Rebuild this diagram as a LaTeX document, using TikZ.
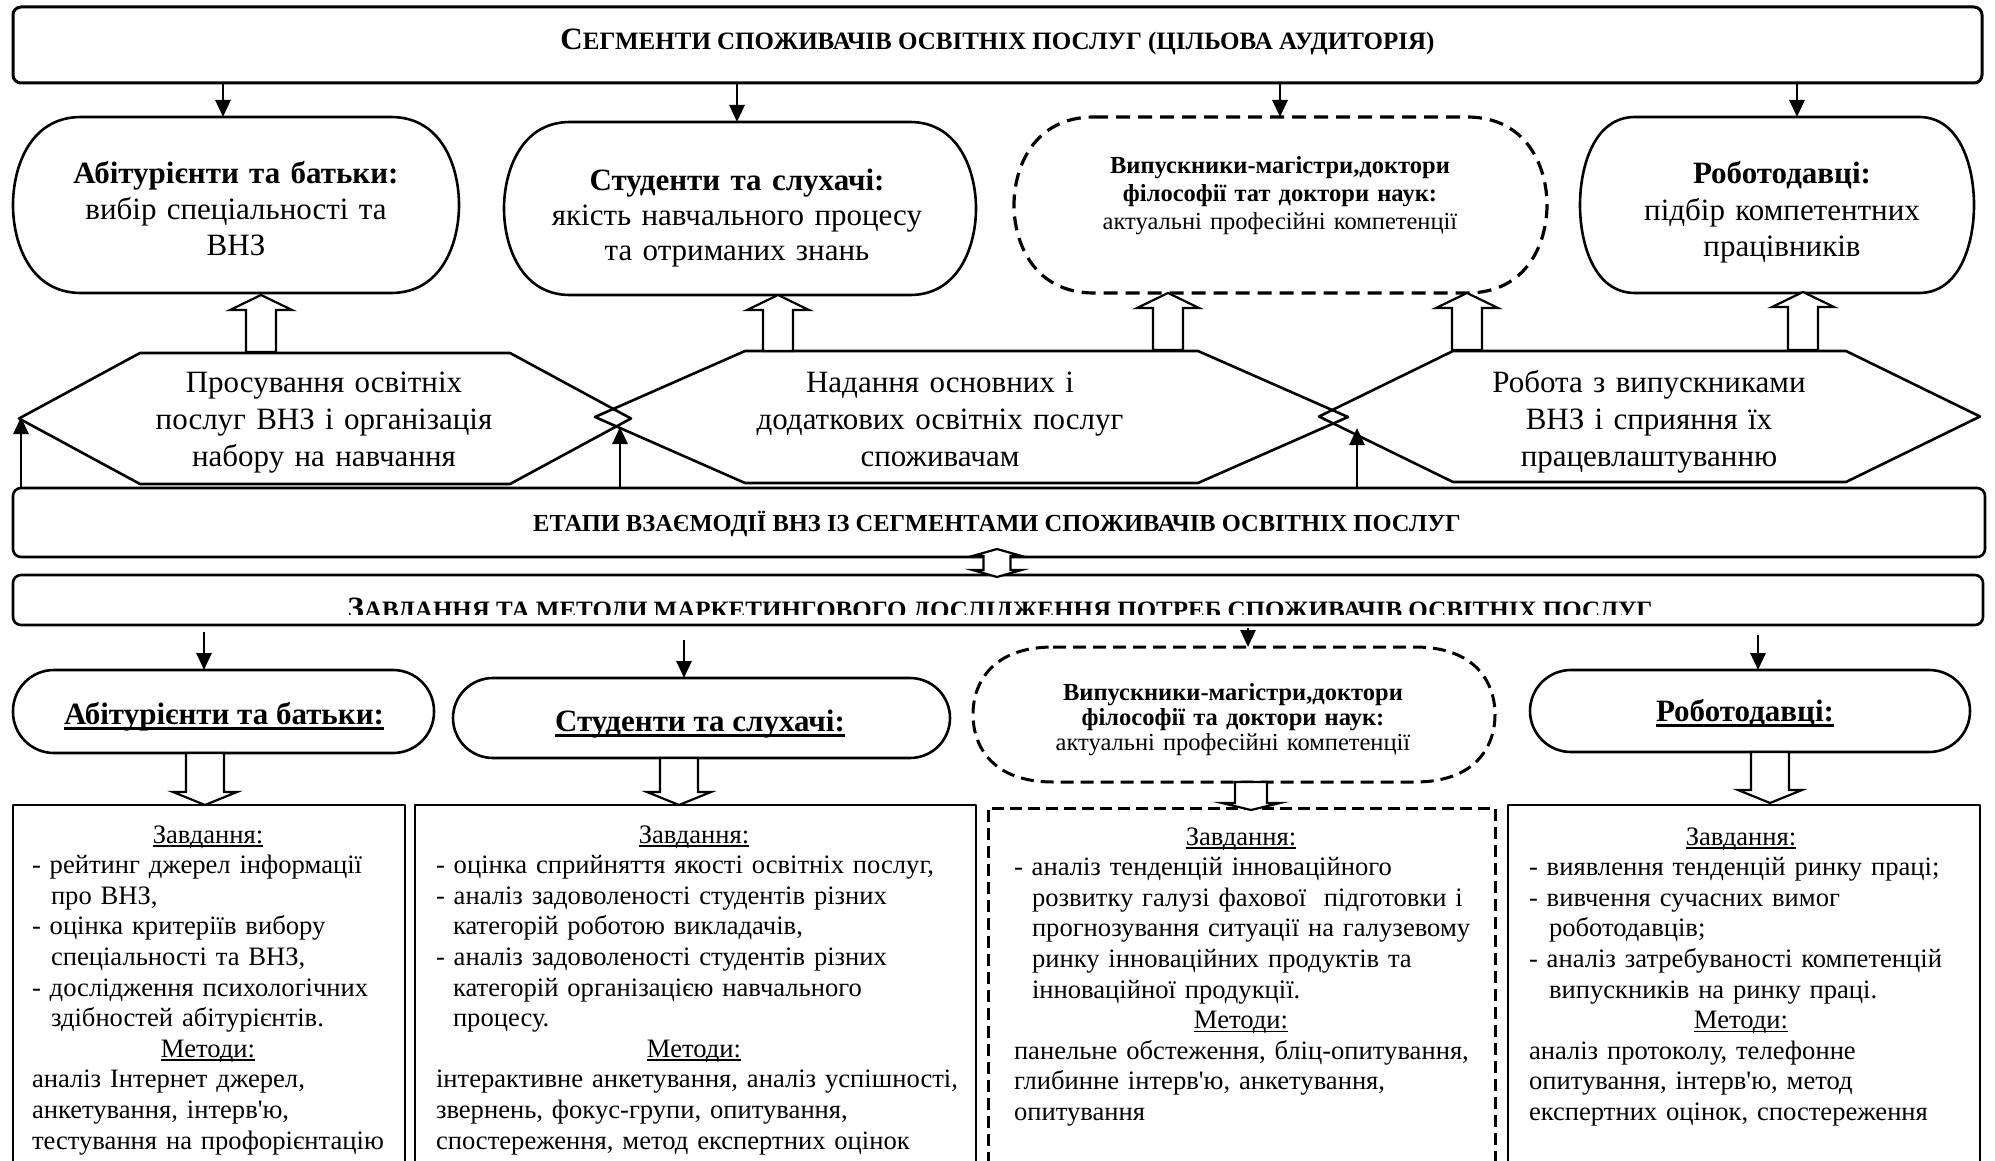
\documentclass[tikz,border=0pt]{standalone}
\usepackage{fontspec}
\setmainfont{Liberation Serif}
\usetikzlibrary{calc,arrows.meta}
\newcommand\fs[2]{\fontsize{#1}{#2}\selectfont}
\newcommand\ulx[3]{\setbox0=\hbox{#3}\rlap{\rule[#1]{\wd0}{#2}}\box0}
\newcommand\softbox[4]{%
  \draw[#2] ($(#1.north west)+(#3,0)$) -- ($(#1.north east)+(-#3,0)$)
   .. controls ($(#1.north east)+(-#3*0.25,0)$) and ($(#1.north east)+(0,#4)$) .. (#1.east)
   .. controls ($(#1.south east)+(0,-#4)$) and ($(#1.south east)+(-#3*0.25,0)$) .. ($(#1.south east)+(-#3,0)$)
   -- ($(#1.south west)+(#3,0)$)
   .. controls ($(#1.south west)+(#3*0.25,0)$) and ($(#1.south west)+(0,-#4)$) .. (#1.west)
   .. controls ($(#1.north west)+(0,#4)$) and ($(#1.north west)+(#3*0.25,0)$) .. ($(#1.north west)+(#3,0)$) -- cycle;}
\newcommand\hexa[2]{\draw[ln] (#1.north west) -- (#1.north east) -- ($(#1.east)+(#2,0)$) -- (#1.south east) -- (#1.south west) -- ($(#1.west)+(-#2,0)$) -- cycle;}
\newcommand\bup[6]{\draw[hollow] ({#1-#4},#2) -- ({#1-#4},{#3+#6}) -- ({#1-#5},{#3+#6}) -- (#1,#3) -- ({#1+#5},{#3+#6}) -- ({#1+#4},{#3+#6}) -- ({#1+#4},#2) -- cycle;}
\newcommand\bdown[6]{\draw[hollow] ({#1-#4},#2) -- ({#1-#4},{#3-#6}) -- ({#1-#5},{#3-#6}) -- (#1,#3) -- ({#1+#5},{#3-#6}) -- ({#1+#4},{#3-#6}) -- ({#1+#4},#2) -- cycle;}
\begin{document}
\begin{tikzpicture}[x=1pt,y=-1pt,
  ln/.style={line width=2.6pt, line join=round},
  dln/.style={line width=3.2pt, dash pattern=on 14pt off 8pt},
  hollow/.style={draw, fill=white, line width=2.2pt, line join=miter},
  arr/.style={line width=2.8pt, -{Triangle[length=17pt,width=15pt]}},
  box/.style={inner sep=0pt, outer sep=0pt},
  txt/.style={inner sep=0pt, outer sep=0pt, anchor=base, align=center, text width=560pt},
  ltxt/.style={inner sep=0pt, outer sep=0pt, anchor=base west, align=left, text width=620pt, font=\fs{26.6}{30.6}}
]
\useasboundingbox (0,0) rectangle (1995,1161);
\fill[white] (0,0) rectangle (1995,1161);

% ---- top bar
\node[box, draw, line width=3pt, rounded corners=8pt, minimum width=1969pt, minimum height=76pt] (top) at (997.5,45) {};
\node[inner sep=0pt, anchor=base] (toptxt) at (997.5,50) {\bfseries\fs{31}{36}С\fs{25}{30}ЕГМЕНТИ СПОЖИВАЧІВ ОСВІТНІХ ПОСЛУГ (ЦІЛЬОВА АУДИТОРІЯ)};

% ---- row 1 boxes
\node[box, minimum width=446pt, minimum height=176pt] (b1) at (236,205) {};
\node[box, minimum width=472pt, minimum height=173pt] (b2) at (740,208.5) {};
\node[box, minimum width=533pt, minimum height=176pt] (b3) at (1280.5,205) {};
\node[box, minimum width=394pt, minimum height=176pt] (b4) at (1777,205) {};
\softbox{b1}{ln}{68}{50}
\softbox{b2}{ln}{66}{50}
\softbox{b3}{dln}{80}{50}
\softbox{b4}{ln}{55}{50}
\node[txt, font=\fs{31}{36}] (t1) at (236,184) {\textbf{Абітурієнти та батьки:}\\вибір спеціальності та\\ВНЗ};
\node[txt, font=\fs{31}{35}] (t2) at (737,191) {\textbf{Студенти та слухачі:}\\якість навчального процесу\\та отриманих знань};
\node[txt, font=\fs{24.5}{28}] (t3) at (1280,174) {\textbf{Випускники-магістри,доктори}\\\textbf{філософії тат доктори наук:}\\актуальні професійні компетенції};
\node[txt, font=\fs{31}{36.5}] (t4) at (1782,184) {\textbf{Роботодавці:}\\підбір компетентних\\працівників};

% arrows top -> row 1
\coordinate (a1) at (223,83);
\coordinate (a2) at (737,83);
\coordinate (a3) at (1280,83);
\coordinate (a4) at (1797,83);
\draw[arr] (a1) -- (a1 |- b1.north);
\draw[arr] (a2) -- (a2 |- b2.north);
\draw[arr] (a3) -- (a3 |- b3.north);
\draw[arr] (a4) -- (a4 |- b4.north);

% ---- hexagons
\node[box, minimum width=370pt, minimum height=131pt] (h1) at (325,418.5) {};
\node[box, minimum width=453pt, minimum height=132pt] (h2) at (971.5,417) {};
\node[box, minimum width=393pt, minimum height=131pt] (h3) at (1649.5,416.5) {};
\hexa{h1}{121}
\hexa{h2}{150}
\hexa{h3}{134}
\node[txt, font=\fs{31}{37}] (ht1) at (324,392) {Просування освітніх\\послуг ВНЗ і організація\\набору на навчання};
\node[txt, font=\fs{31}{37}] (ht2) at (940,392) {Надання основних і\\додаткових освітніх послуг\\споживачам};
\node[txt, font=\fs{31}{37}] (ht3) at (1649,392) {Робота з випускниками\\ВНЗ і сприяння їх\\працевлаштуванню};

% hollow up arrows hex -> row 1
\bup{261}{352}{295}{15}{31}{15}
\bup{778}{351}{295}{15}{31}{15}
\bup{1168}{350}{293}{15}{31}{15}
\bup{1467}{350}{293}{15}{31}{15}
\bup{1803}{350}{292}{15}{31}{15}

% ---- stages bar
\node[box, draw, ln, rounded corners=8pt, minimum width=1972pt, minimum height=69pt] (etapy) at (999,522.5) {};
\node[inner sep=0pt, anchor=base] (etapytxt) at (997,531) {\bfseries\fs{24.5}{29}ЕТАПИ ВЗАЄМОДІЇ ВНЗ ІЗ СЕГМЕНТАМИ СПОЖИВАЧІВ ОСВІТНІХ ПОСЛУГ};
\coordinate (u1) at (21,488);
\coordinate (u2) at (620,488);
\coordinate (u3) at (1357,488);
\coordinate (p1) at (21,417);
\coordinate (p2) at (620,427);
\coordinate (p3) at (1357,428);
\draw[arr] (u1) -- (p1);
\draw[arr] (u2) -- (p2);
\draw[arr] (u3) -- (p3);

% ---- tasks bar
\node[box, draw, ln, rounded corners=8pt, minimum width=1970pt, minimum height=50pt] (zavd) at (998,600) {};
\begin{scope}
\clip (13,575) rectangle (1983,614);
\node[inner sep=0pt, anchor=base] (zavdtxt) at (1000,618) {\bfseries\fs{31}{36}З\fs{25}{30}АВДАННЯ ТА МЕТОДИ МАРКЕТИНГОВОГО ДОСЛІДЖЕННЯ ПОТРЕБ СПОЖИВАЧІВ ОСВІТНІХ ПОСЛУГ};
\end{scope}
% double arrow between bars
\draw[hollow] (997,549) -- (1021.5,556) -- (1010.5,556) -- (1010.5,570) -- (1021.5,570) -- (997,577) -- (972.5,570) -- (983.5,570) -- (983.5,556) -- (972.5,556) -- cycle;

% ---- row 3 ovals
\node[box, draw, ln, rounded corners=41pt, minimum width=421pt, minimum height=83pt] (o1) at (223.5,711.5) {};
\node[box, draw, ln, rounded corners=40pt, minimum width=497pt, minimum height=80pt] (o2) at (701.5,718) {};
\node[box, minimum width=522pt, minimum height=135pt] (o3) at (1234,714.5) {};
\softbox{o3}{line width=3pt, dash pattern=on 13pt off 7pt}{80}{35}
\node[box, draw, ln, rounded corners=41pt, minimum width=440pt, minimum height=82pt] (o4) at (1750,711) {};
\node[inner sep=0pt, anchor=base] (ot1) at (224,724) {\bfseries\fs{31}{36}\ulx{-6pt}{3pt}{Абітурієнти та батьки:}};
\node[inner sep=0pt, anchor=base] (ot2) at (700,731) {\bfseries\fs{31}{36}\ulx{-6pt}{3pt}{Студенти та слухачі:}};
\node[inner sep=0pt, anchor=base] (ot4) at (1745,721) {\bfseries\fs{31}{36}\ulx{-6pt}{3pt}{Роботодавці:}};
\node[txt, font=\fs{24.5}{25}] (ot3) at (1233,700) {\textbf{Випускники-магістри,доктори}\\\textbf{філософії та доктори наук:}\\актуальні професійні компетенції};

% arrows tasks bar -> ovals
\coordinate (d1) at (204,632);
\coordinate (d2) at (684,640);
\coordinate (d3) at (1248,628);
\coordinate (d4) at (1758,635);
\draw[arr] (d1) -- (d1 |- o1.north);
\draw[arr] (d2) -- (d2 |- o2.north);
\draw[arr] (d3) -- (d3 |- o3.north);
\draw[arr] (d4) -- (d4 |- o4.north);

% ---- bottom boxes
\node[box, draw, ln, anchor=north west, minimum width=392pt, minimum height=370pt] (bxA) at (13,805) {};
\node[box, draw, ln, anchor=north west, minimum width=561pt, minimum height=370pt] (bxB) at (415,805) {};
\node[box, draw, line width=3pt, dash pattern=on 12pt off 6pt, anchor=north west, minimum width=507pt, minimum height=370pt] (bxC) at (988,808) {};
\node[box, draw, ln, anchor=north west, minimum width=472pt, minimum height=370pt] (bxD) at (1508,805) {};

% hollow down arrows ovals -> boxes
\bdown{205}{753}{805}{19}{32}{13}
\bdown{679}{758}{805}{19}{32}{13}
\bdown{1251}{782}{810}{16}{29}{7}
\bdown{1770}{752}{803}{19}{32}{13}

\node[ltxt] (tA) at (32,843) {\makebox[352pt]{\ulx{-3.5pt}{1.6pt}{Завдання:}}\\
- рейтинг джерел інформації\\
\hspace*{19pt}про ВНЗ,\\
- оцінка критеріїв вибору\\
\hspace*{19pt}спеціальності та ВНЗ,\\
- дослідження психологічних\\
\hspace*{19pt}здібностей абітурієнтів.\\
\makebox[352pt]{\ulx{-3.5pt}{1.6pt}{Методи:}}\\
аналіз Інтернет джерел,\\
анкетування, інтерв\textquotesingle ю,\\
тестування на профорієнтацію};

\node[ltxt] (tB) at (436,843) {\makebox[516pt]{\ulx{-3.5pt}{1.6pt}{Завдання:}}\\
- оцінка сприйняття якості освітніх послуг,\\
- аналіз задоволеності студентів різних\\
\hspace*{17pt}категорій роботою викладачів,\\
- аналіз задоволеності студентів різних\\
\hspace*{17pt}категорій організацією навчального\\
\hspace*{17pt}процесу.\\
\makebox[516pt]{\ulx{-3.5pt}{1.6pt}{Методи:}}\\
інтерактивне анкетування, аналіз успішності,\\
звернень, фокус-групи, опитування,\\
спостереження, метод експертних оцінок};

\node[ltxt] (tC) at (1014,845) {\makebox[454pt]{\ulx{-3.5pt}{1.6pt}{Завдання:}}\\
- аналіз тенденцій інноваційного\\
\hspace*{18pt}розвитку галузі фахової~ підготовки і\\
\hspace*{18pt}прогнозування ситуації на галузевому\\
\hspace*{18pt}ринку інноваційних продуктів та\\
\hspace*{18pt}інноваційної продукції.\\
\makebox[454pt]{\ulx{-3.5pt}{1.6pt}{Методи:}}\\
панельне обстеження, бліц-опитування,\\
глибинне інтерв\textquotesingle ю, анкетування,\\
опитування};

\node[ltxt] (tD) at (1529,845) {\makebox[424pt]{\ulx{-3.5pt}{1.6pt}{Завдання:}}\\
- виявлення тенденцій ринку праці;\\
- вивчення сучасних вимог\\
\hspace*{20pt}роботодавців;\\
- аналіз затребуваності компетенцій\\
\hspace*{20pt}випускників на ринку праці.\\
\makebox[424pt]{\ulx{-3.5pt}{1.6pt}{Методи:}}\\
аналіз протоколу, телефонне\\
опитування, інтерв\textquotesingle ю, метод\\
експертних оцінок, спостереження};
\end{tikzpicture}
\end{document}
